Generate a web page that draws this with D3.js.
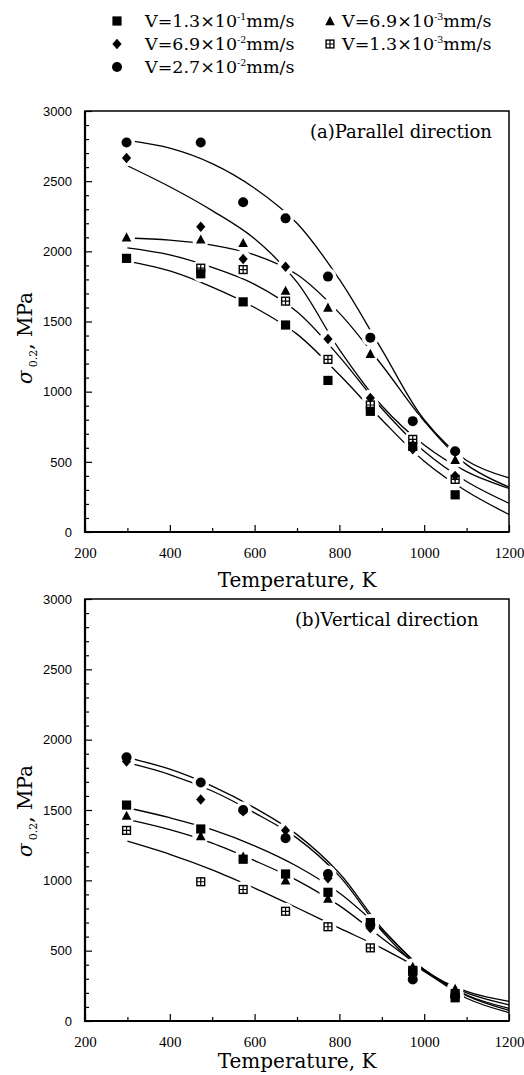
<!DOCTYPE html>
<html>
<head>
<meta charset="utf-8">
<script src="https://cdn.jsdelivr.net/npm/d3@7"></script>
<style>
  body { margin: 0; background: #fff; }
  svg { display: block; }
</style>
</head>
<body>
<svg id="chart" width="524" height="1075"></svg>
<script>
'use strict'

// test temperatures (K) of the measured points
var temps = [298, 473, 573, 673, 773, 873, 973, 1073]
var fitTemps = [300, 400, 500, 600, 700, 800, 900, 1000, 1100, 1200]

// (a) parallel direction, sigma 0.2 in MPa
var parSquare   = [1950, 1840, 1640, 1475, 1080, 860, 610, 265]
var parDiamond  = [2665, 2175, 1945, 1890, 1375, 955, 590, 400]
var parCircle   = [2775, 2775, 2350, 2235, 1820, 1385, 790, 575]
var parTriangle = [2100, 2085, 2060, 1720, 1600, 1270, 625, 515]
var parCross    = [null, 1880, 1870, 1645, 1230, 905, 660, 375]

var parSquareFit   = [1930, 1860, 1745, 1600, 1410, 1120, 800, 505, 290, 125]
var parDiamondFit  = [2610, 2460, 2290, 2090, 1780, 1300, 900, 620, 430, 310]
var parCircleFit   = [2790, 2735, 2625, 2450, 2200, 1800, 1300, 800, 510, 385]
var parTriangleFit = [2095, 2080, 2045, 1975, 1835, 1560, 1190, 790, 480, 320]
var parCrossFit    = [2025, 1975, 1885, 1765, 1570, 1250, 880, 575, 360, 205]

// (b) vertical direction
var verSquare   = [1535, 1365, 1150, 1045, 915, 700, 350, 165]
var verDiamond  = [1845, 1575, 1490, 1355, 1015, 660, 340, 175]
var verCircle   = [1875, 1695, 1500, 1300, 1045, 685, 295, 175]
var verTriangle = [1460, 1315, 1170, 1000, 870, 695, 385, 230]
var verCross    = [1355, 990, 935, 780, 670, 520, 360, 195]

var verSquareFit   = [1516, 1445, 1360, 1245, 1100, 910, 650, 365, 185, 90]
var verDiamondFit  = [1836, 1752, 1635, 1480, 1300, 1030, 640, 355, 200, 115]
var verCircleFit   = [1872, 1790, 1670, 1515, 1325, 1050, 660, 365, 210, 140]
var verTriangleFit = [1433, 1360, 1265, 1140, 1000, 820, 590, 365, 180, 75]
var verCrossFit    = [1278, 1185, 1075, 945, 805, 660, 518, 352, 162, 60]

var markerNames  = ['square', 'diamond', 'circle', 'triangle', 'cross']
var legendMant   = ['1.3', '6.9', '2.7', '6.9', '1.3']
var legendExp    = ['-1', '-2', '-2', '-3', '-3']
var xTicks = [200, 400, 600, 800, 1000, 1200]
var yTicks = [0, 500, 1000, 1500, 2000, 2500, 3000]

var svg = d3.select('#chart')

var x = d3.scaleLinear().domain([200, 1200]).range([85, 509])

// draws one marker shape centred on 0,0
function marker(sel, kind){
  if (kind == 'square'){
    sel.append('rect').attr('x', -4.6).attr('y', -4.6).attr('width', 9.2).attr('height', 9.2).attr('fill', '#000')
  } else if (kind == 'diamond'){
    sel.append('path').attr('d', 'M0,-5.2L4.6,0L0,5.2L-4.6,0Z').attr('fill', '#000')
  } else if (kind == 'circle'){
    sel.append('circle').attr('r', 5).attr('fill', '#000')
  } else if (kind == 'triangle'){
    sel.append('path').attr('d', 'M0,-5L4.8,4.2L-4.8,4.2Z').attr('fill', '#000')
  } else {
    sel.append('rect').attr('x', -3.9).attr('y', -3.9).attr('width', 7.8).attr('height', 7.8)
      .attr('fill', '#fff').attr('stroke', '#000').attr('stroke-width', 1.4)
    sel.append('path').attr('d', 'M0,-3.9V3.9M-3.9,0H3.9').attr('stroke', '#000').attr('stroke-width', 1.2)
  }
}

function panel(top, bottom, points, fits, label, labelX, titleY, xTitleOff){
  var y = d3.scaleLinear().domain([0, 3000]).range([bottom, top])
  var g = svg.append('g')

  // curves
  var line = d3.line()
    .x((d, i) => x(fitTemps[i]))
    .y(d => y(d))
    .curve(d3.curveCatmullRom)
  fits.forEach(f => {
    g.append('path').attr('d', line(f))
      .attr('fill', 'none').attr('stroke', '#000').attr('stroke-width', 1.3)
  })

  // white gaps around markers
  points.forEach(s => {
    s.forEach((v, i) => {
      if (v == null) return
      g.append('circle').attr('cx', x(temps[i])).attr('cy', y(v)).attr('r', 8.5).attr('fill', '#fff')
    })
  })

  var order = [4, 0, 1, 3, 2]
  order.forEach(k => {
    points[k].forEach((v, i) => {
      if (v == null) return
      var m = g.append('g').attr('transform', 'translate(' + x(temps[i]) + ',' + y(v) + ')')
      marker(m, markerNames[k])
    })
  })

  // frame
  g.append('rect').attr('x', 85).attr('y', top).attr('width', 509 - 85).attr('height', bottom - top)
    .attr('fill', 'none').attr('stroke', '#000').attr('stroke-width', 1.5)
  g.append('path').attr('d', 'M85,' + top + 'V' + bottom + 'H509')
    .attr('fill', 'none').attr('stroke', '#000').attr('stroke-width', 2.2)

  // axes, ticks pointing inwards
  var xa = g.append('g').attr('transform', 'translate(0,' + bottom + ')')
    .call(d3.axisBottom(x).tickValues(xTicks).tickFormat(d3.format('d'))
      .tickSizeInner(-7).tickSizeOuter(0).tickPadding(15))
  xa.append('g').call(d3.axisBottom(x).tickValues(d3.range(300, 1200, 200)).tickSizeInner(-4).tickSizeOuter(0).tickFormat(''))
  xa.selectAll('.domain').remove()
  xa.selectAll('text').attr('font-family', 'Liberation Serif').attr('font-size', 15).attr('fill', '#000')

  var ya = g.append('g').attr('transform', 'translate(85,0)')
    .call(d3.axisLeft(y).tickValues(yTicks).tickFormat(d3.format('d'))
      .tickSizeInner(-7).tickSizeOuter(0).tickPadding(13))
  ya.append('g').call(d3.axisLeft(y).tickValues(d3.range(100, 3000, 100).filter(v => v % 500 != 0)).tickSizeInner(-4).tickSizeOuter(0).tickFormat(''))
  ya.selectAll('.domain').remove()
  ya.selectAll('text').attr('font-family', 'Liberation Sans').attr('font-size', 13).attr('fill', '#000')
  g.selectAll('.tick line').attr('stroke', '#000').attr('stroke-width', 1.2)

  // panel label
  g.append('text').attr('x', labelX).attr('y', top + 27)
    .attr('font-family', 'DejaVu Serif').attr('font-size', 18).text(label)

  // axis titles
  g.append('text').attr('x', 297).attr('y', bottom + xTitleOff).attr('text-anchor', 'middle')
    .attr('font-family', 'DejaVu Serif').attr('font-size', 20).text('Temperature, K')

  var yt = g.append('text').attr('transform', 'translate(32,' + titleY + ') rotate(-90)')
    .attr('text-anchor', 'middle').attr('font-family', 'DejaVu Serif').attr('font-size', 20)
  yt.append('tspan').attr('font-style', 'italic').text('σ')
  yt.append('tspan').attr('font-size', 11).attr('dy', 5).attr('dx', 3).text('0.2')
  yt.append('tspan').attr('dy', -5).text(', MPa')
}

panel(111, 532,
  [parSquare, parDiamond, parCircle, parTriangle, parCross],
  [parSquareFit, parDiamondFit, parCircleFit, parTriangleFit, parCrossFit],
  '(a)Parallel direction', 310, 338, 55)

panel(599, 1021,
  [verSquare, verDiamond, verCircle, verTriangle, verCross],
  [verSquareFit, verDiamondFit, verCircleFit, verTriangleFit, verCrossFit],
  '(b)Vertical direction', 295, 811, 47)

// legend
var legendPos = [[117, 21], [117, 44], [117, 67], [330, 21], [330, 44]]
markerNames.forEach((k, i) => {
  var p = legendPos[i]
  marker(svg.append('g').attr('transform', 'translate(' + p[0] + ',' + p[1] + ')'), k)
  var t = svg.append('text').attr('x', p[0] + (i < 3 ? 28 : 12)).attr('y', p[1] + 6)
    .attr('font-family', 'DejaVu Serif').attr('font-size', 17.5)
  t.append('tspan').text('V=' + legendMant[i] + '×10')
  t.append('tspan').attr('font-size', 9.5).attr('dy', -7).text(legendExp[i])
  t.append('tspan').attr('dy', 7).text('mm/s')
})
</script>
</body>
</html>
